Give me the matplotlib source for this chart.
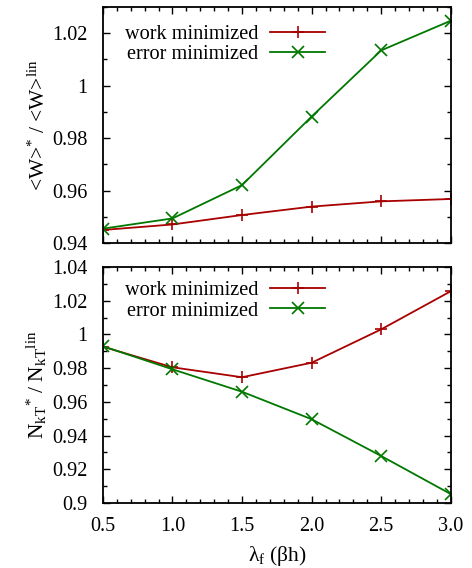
import matplotlib
matplotlib.use("Agg")
import matplotlib.pyplot as plt
from matplotlib.ticker import MultipleLocator, FormatStrFormatter, FuncFormatter

plt.rcParams["font.family"] = ["Liberation Serif", "DejaVu Serif"]
plt.rcParams["mathtext.fontset"] = "custom"
plt.rcParams["mathtext.rm"] = "Liberation Serif"
plt.rcParams["mathtext.it"] = "Liberation Serif:italic"
plt.rcParams["font.size"] = 14.6

lam = [0.5, 1.0, 1.5, 2.0, 2.5, 3.0]

# mean work relative to the linear protocol
work_w = [0.9450, 0.9471, 0.9507, 0.9539, 0.9559, 0.9568]
work_e = [0.9455, 0.9494, 0.9621, 0.9882, 1.0134, 1.0247]

# N_kT relative to the linear protocol
nkt_w = [0.9927, 0.9805, 0.9746, 0.9832, 1.0030, 1.0256]
nkt_e = [0.9930, 0.9793, 0.9660, 0.9497, 0.9279, 0.9053]

RED = "#a80000"
GREEN = "#007800"


def trim(v, pos):
    return "%g" % v


def style(ax):
    ax.tick_params(direction="in", which="both", top=True, right=True,
                   width=1.0, labelsize=14.6)
    ax.tick_params(axis="y", pad=11)
    ax.tick_params(axis="x", pad=10)
    ax.tick_params(which="major", length=5)
    ax.tick_params(which="minor", length=3)
    ax.xaxis.set_minor_locator(MultipleLocator(0.1))
    ax.yaxis.set_minor_locator(MultipleLocator(0.01))
    ax.set_xlim(0.5, 3.0)
    for s in ax.spines.values():
        s.set_linewidth(1.3)


fig = plt.figure(figsize=(4.72, 5.68), dpi=100)
ax1 = fig.add_axes([0.218, 0.572, 0.737, 0.416])
ax2 = fig.add_axes([0.218, 0.1144, 0.737, 0.4156])

ax1.plot(lam, work_w, color=RED, marker="+", ms=9, mew=1.2, lw=1.3, label="work minimized")
ax1.plot(lam, work_e, color=GREEN, marker="x", ms=9, mew=1.2, lw=1.3, label="error minimized")
ax1.set_ylim(0.94, 1.03)
ax1.yaxis.set_major_locator(MultipleLocator(0.02))
ax1.yaxis.set_major_formatter(FuncFormatter(trim))
ax1.xaxis.set_major_locator(MultipleLocator(0.5))
ax1.set_xticklabels([])
style(ax1)
ax1.set_ylabel(r"<W>$^{*}$ / <W>$^{\rm lin}$", fontsize=15.5, labelpad=2)

ax2.plot(lam, nkt_w, color=RED, marker="+", ms=9, mew=1.2, lw=1.3, label="work minimized")
ax2.plot(lam, nkt_e, color=GREEN, marker="x", ms=9, mew=1.2, lw=1.3, label="error minimized")
ax2.set_ylim(0.90, 1.04)
ax2.yaxis.set_major_locator(MultipleLocator(0.02))
ax2.yaxis.set_major_formatter(FuncFormatter(trim))
ax2.xaxis.set_major_locator(MultipleLocator(0.5))
ax2.xaxis.set_major_formatter(FormatStrFormatter("%.1f"))
style(ax2)
ax2.set_ylabel(r"N$_{\rm kT}$$^{*}$ / N$_{\rm kT}$$^{\rm lin}$", fontsize=15.5, labelpad=2)
ax2.set_xlabel(r"λ$_{\rm f}$ (βh)", fontsize=15.5, labelpad=6)

legend_tops = {ax1: 0.985, ax2: 1.0}
for ax in (ax1, ax2):
    ax.legend(loc="upper right", bbox_to_anchor=(0.68, legend_tops[ax]), frameon=False,
              markerfirst=False, handlelength=2.7, handletextpad=0.6,
              labelspacing=0.05, borderaxespad=0.3, fontsize=14.6)

fig.savefig("out.png", dpi=100)
